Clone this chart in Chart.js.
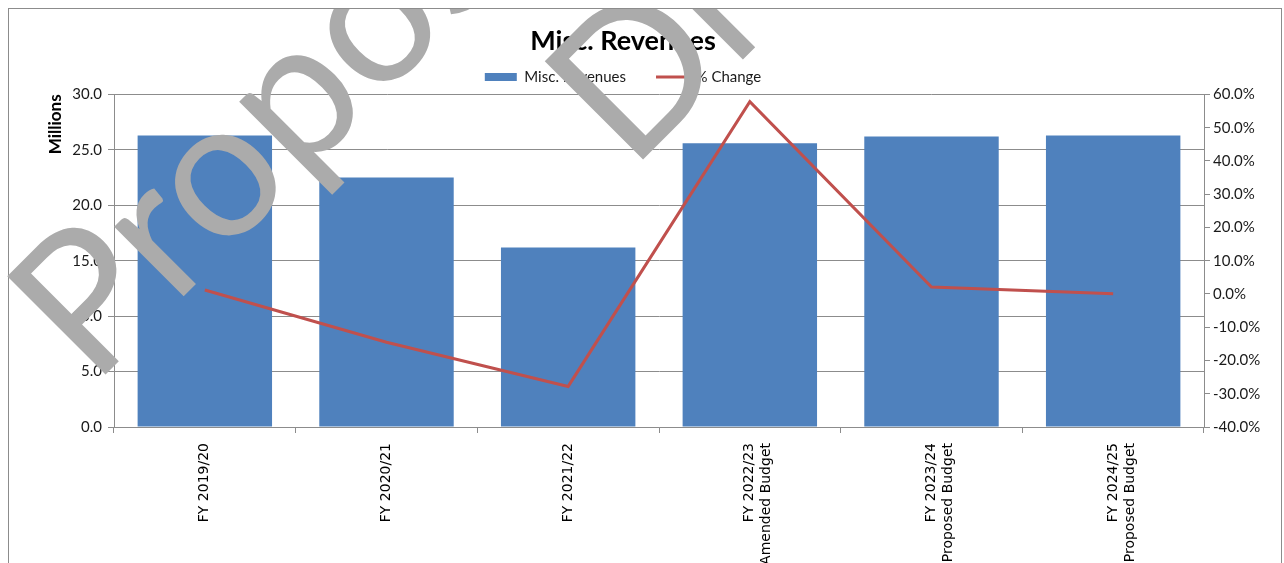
<!DOCTYPE html>
<html>
<head>
<meta charset="utf-8">
<title>Misc. Revenues</title>
<script src="https://cdn.jsdelivr.net/npm/chart.js@4/dist/chart.umd.min.js"></script>
<style>
  body { margin: 0; background: #fff; overflow: hidden; }
  #frame {
    position: absolute; left: 8px; top: 8px;
    width: 1272px; height: 600px;
    border: 1px solid #8c8c8c;
  }
  /* canvas sporge a sinistra del riquadro: cosi' titolo e legenda stanno un po' a sinistra */
  #grafico { position: absolute; left: -35px; top: 9px; display: block; }
</style>
</head>
<body>
<div id="frame"></div>
<canvas id="grafico" width="1316" height="600"></canvas>
<script>
// categorie e serie
var anni = [
  'FY 2019/20',
  'FY 2020/21',
  'FY 2021/22',
  ['FY 2022/23', 'Amended Budget'],
  ['FY 2023/24', 'Proposed Budget'],
  ['FY 2024/25', 'Proposed Budget']
];
var ricavi = [26.3, 22.5, 16.2, 25.6, 26.2, 26.3];        // milioni
var variazione = [1.2, -14.5, -27.8, 57.8, 2.1, 0.1];     // % sull'anno prima
var filigrana = ['Proposed', 'Draft'];

var blu = '#4F81BD';
var rosso = '#C0504D';
var griglia = '#8c8c8c';

Chart.defaults.font.family = 'Lato, "Open Sans", sans-serif';
Chart.defaults.color = '#1a1a1a';

// scritta grigia sopra tutto il grafico
var pluginFiligrana = {
  id: 'filigrana',
  afterDraw: function(chart) {
    var ctx = chart.ctx;
    ctx.save();
    ctx.translate(128, 378);
    ctx.rotate(-Math.PI / 4);
    ctx.fillStyle = '#ababab';
    ctx.font = '194px Lato';
    ctx.textAlign = 'left';
    ctx.textBaseline = 'alphabetic';
    ctx.fillText(filigrana[0], 0, 0);
    ctx.fillText(filigrana[1], 532, 228);
    ctx.restore();
  }
};

var ctx = document.getElementById('grafico');
var chart = new Chart(ctx, {
  type: 'bar',
  data: {
    labels: anni,
    datasets: [{
      type: 'bar',
      label: 'Misc. Revenues',
      data: ricavi,
      backgroundColor: blu,
      borderWidth: 0,
      barPercentage: 0.74,
      categoryPercentage: 1,
      pointStyle: 'rect',
      yAxisID: 'y',
      order: 2
    }, {
      type: 'line',
      label: '% Change',
      data: variazione,
      borderColor: rosso,
      backgroundColor: rosso,
      borderWidth: 3,
      pointRadius: 0,
      pointStyle: 'line',
      tension: 0,
      yAxisID: 'y1',
      order: 1
    }]
  },
  options: {
    responsive: false,
    animation: false,
    layout: { padding: 0 },
    plugins: {
      title: {
        display: true,
        text: 'Misc. Revenues',
        color: '#000',
        font: { size: 27, weight: 'bold' },
        padding: { top: 16, bottom: -18 }
      },
      legend: {
        position: 'top',
        labels: {
          usePointStyle: true,
          pointStyleWidth: 32,
          boxHeight: 8,
          padding: 30,
          color: '#1a1a1a',
          font: { size: 15 },
          sort: function(a, b) { return a.datasetIndex - b.datasetIndex; }
        }
      },
      tooltip: { enabled: false }
    },
    scales: {
      x: {
        grid: { offset: true, drawOnChartArea: false, color: griglia, tickLength: 6 },
        border: { color: griglia },
        ticks: {
          minRotation: 90, maxRotation: 90,
          padding: 10,
          color: '#000',
          font: { family: '"DejaVu Sans"', size: 14 }
        },
        afterFit: function(scale) { scale.height = 182; }
      },
      y: {
        position: 'left',
        min: 0, max: 30,
        grid: { color: griglia, tickLength: 6 },
        border: { color: griglia },
        ticks: {
          stepSize: 5,
          padding: 6,
          font: { size: 15 },
          callback: function(v) { return v.toFixed(1); }
        },
        title: {
          display: true,
          text: 'Millions',
          align: 'end',
          color: '#000',
          font: { size: 17, weight: 'bold' },
          padding: { top: 80, bottom: 0 }
        },
        afterFit: function(scale) { scale.width = 149; }
      },
      y1: {
        position: 'right',
        min: -40, max: 60,
        grid: { drawOnChartArea: false, color: griglia, tickLength: 6 },
        border: { color: griglia },
        ticks: {
          stepSize: 10,
          padding: 3,
          font: { size: 15 },
          callback: function(v) { return v.toFixed(1) + '%'; }
        },
        afterFit: function(scale) { scale.width = 77; }
      }
    }
  },
  plugins: [pluginFiligrana]
});
</script>
</body>
</html>
